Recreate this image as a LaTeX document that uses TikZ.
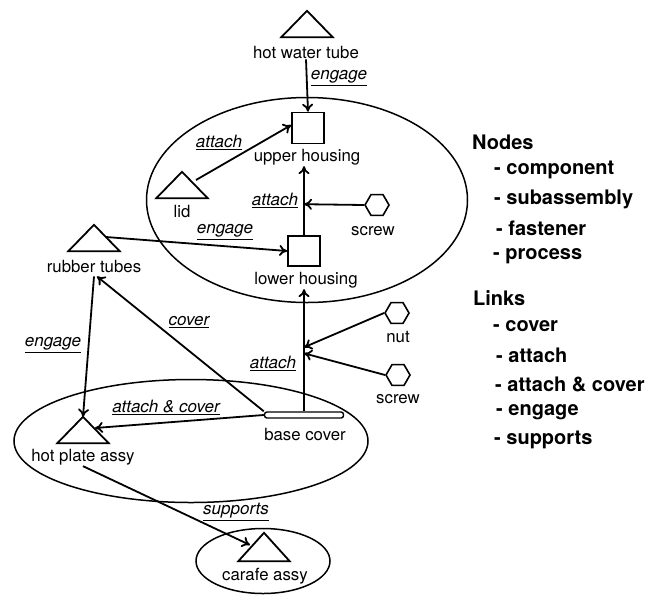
\documentclass[tikz,border=0pt]{standalone}
\usepackage{fontspec}
\setmainfont{TeX Gyre Heros}
\usetikzlibrary{arrows.meta,shapes.geometric,calc}
\begin{document}
\begin{tikzpicture}[x=1pt,y=-1pt,
  lbl/.style={font=\fontsize{16.8}{19}\selectfont, inner sep=1pt},
  lnk/.style={font=\fontsize{17}{19}\selectfont\itshape, inner sep=1pt},
  leg/.style={font=\fontsize{20}{23}\selectfont\bfseries, anchor=west, inner sep=0pt},
  arr/.style={line width=1.8pt, -{To[length=8pt,width=11pt]}},
  tri/.style={minimum width=51pt, minimum height=26pt, inner sep=0pt},
  box/.style={draw, line width=1.6pt, minimum width=32pt, minimum height=31pt, inner sep=0pt},
  hexa/.style={draw, regular polygon, regular polygon sides=6, minimum size=24pt, inner sep=0pt, line width=1.6pt},
  bar/.style={draw, rounded corners=2.5pt, minimum width=79pt, minimum height=6pt, inner sep=0pt, line width=1.4pt},
  grp/.style={draw, ellipse, line width=1.5pt, inner sep=0pt}
]
\useasboundingbox (0,0) rectangle (660,595);

% group ellipses
\node[grp, minimum width=321pt, minimum height=205pt] (g1) at (307,200) {};
\node[grp, minimum width=354pt, minimum height=123pt] (g2) at (191,441) {};
\node[grp, minimum width=134pt, minimum height=65pt] (g3) at (263,561) {};

% triangles (components / subassemblies)
\node[tri] (hwt) at (307,24) {};
\node[tri] (lid) at (182,185) {};
\node[tri] (rt)  at (94,238) {};
\node[tri] (hpa) at (83,430) {};
\node[tri, minimum height=28pt] (ca)  at (264,547) {};
\foreach \n in {hwt,lid,rt,hpa,ca}
  \draw[line width=1.8pt, line join=miter] (\n.south west) -- (\n.north) -- (\n.south east) -- cycle;

% boxes, hexagons, bar
\node[box] (uh) at (308,128) {};
\node[box, minimum height=30pt] (lh) at (304,251) {};
\node[hexa] (s1)  at (377,205) {};
\node[hexa] (nut) at (397,313) {};
\node[hexa] (s2)  at (398,375) {};
\node[bar] (bc) at (304,415) {};

% node labels
\node[lbl] (hwtl) at (306,52) {hot water tube};
\node[lbl] (uhl)  at (307,157) {upper housing};
\node[lbl] (lidl) at (182,211) {lid};
\node[lbl] (lhl)  at (306,280) {lower housing};
\node[lbl] (s1l)  at (373,231) {screw};
\node[lbl] (rtl)  at (94,266) {rubber tubes};
\node[lbl] (nutl) at (398,337) {nut};
\node[lbl] (s2l)  at (398,399) {screw};
\node[lbl] (bcl)  at (305,434) {base cover};
\node[lbl] (hpal) at (83,457) {hot plate assy};
\node[lbl] (cal)  at (265,576) {carafe assy};

% junction points
\coordinate (j0) at ($(lh.north)+(0,-31)$);
\coordinate (j1) at ($(bc.north)+(0,-64)$);
\coordinate (j2) at ($(bc.north)+(0,-58)$);
\coordinate (lidp) at ($(lid)+(14,-5)$);
\coordinate (rtp) at ($(rt)+(12,-1)$);
\coordinate (rttop) at ($(rtl.south)+(3,3)$);
\coordinate (rtbot) at ($(rtl.south)+(0,3)$);
\coordinate (hpap) at ($(hpa)+(12,-2)$);
\coordinate (cap) at ($(ca)+(-14,-2)$);

% connectors
\draw[arr] (hwtl.south) -- (uh.north);
\draw[arr] (lidp) -- (uh.170);
\draw[arr] (lh.north) -- (lh.north |- uhl.south);
\draw[arr] (s1.west) -- (j0);
\draw[arr] (rtp) -- (lh.west);
\draw[arr] (bc.north) -- (bc.north |- lhl.south);
\draw[arr] (nut.west) -- (j1);
\draw[arr] (s2.west) -- (j2);
\draw[arr] (bc.north west) -- (rttop);
\draw[arr] (rtbot) -- (hpa.north);
\draw[arr] (bc.west) -- (hpap);
\draw[arr] (hpal.south) -- (cap);

% link labels
\node[lnk] (e1) at (339,78) {\underline{engage}};
\node[lnk] (a1) at (219,142) {\underline{attach}};
\node[lnk] (a2) at (275,200) {\underline{attach}};
\node[lnk] (e2) at (225,232) {\underline{engage}};
\node[lnk] (c1) at (189,322) {\underline{cover}};
\node[lnk] (e3) at (53,345) {\underline{engage}};
\node[lnk] (a3) at (273,363) {\underline{attach}};
\node[lnk] (ac) at (166,407) {\underline{attach \& cover}};
\node[lnk] (sp) at (236,512) {\underline{supports}};

% legend
\node[leg] (n0) at (472,142) {Nodes};
\node[leg] (n1) at (494,170) {- component};
\node[leg] (n2) at (494,199) {- subassembly};
\node[leg] (n3) at (496,228) {- fastener};
\node[leg] (n4) at (493,256) {- process};
\node[leg] (k0) at (473,298) {Links};
\node[leg] (k1) at (493,326) {- cover};
\node[leg] (k2) at (496,355) {- attach};
\node[leg] (k3) at (495,384) {- attach \& cover};
\node[leg] (k4) at (496,412) {- engage};
\node[leg] (k5) at (494,440) {- supports};
\end{tikzpicture}
\end{document}
